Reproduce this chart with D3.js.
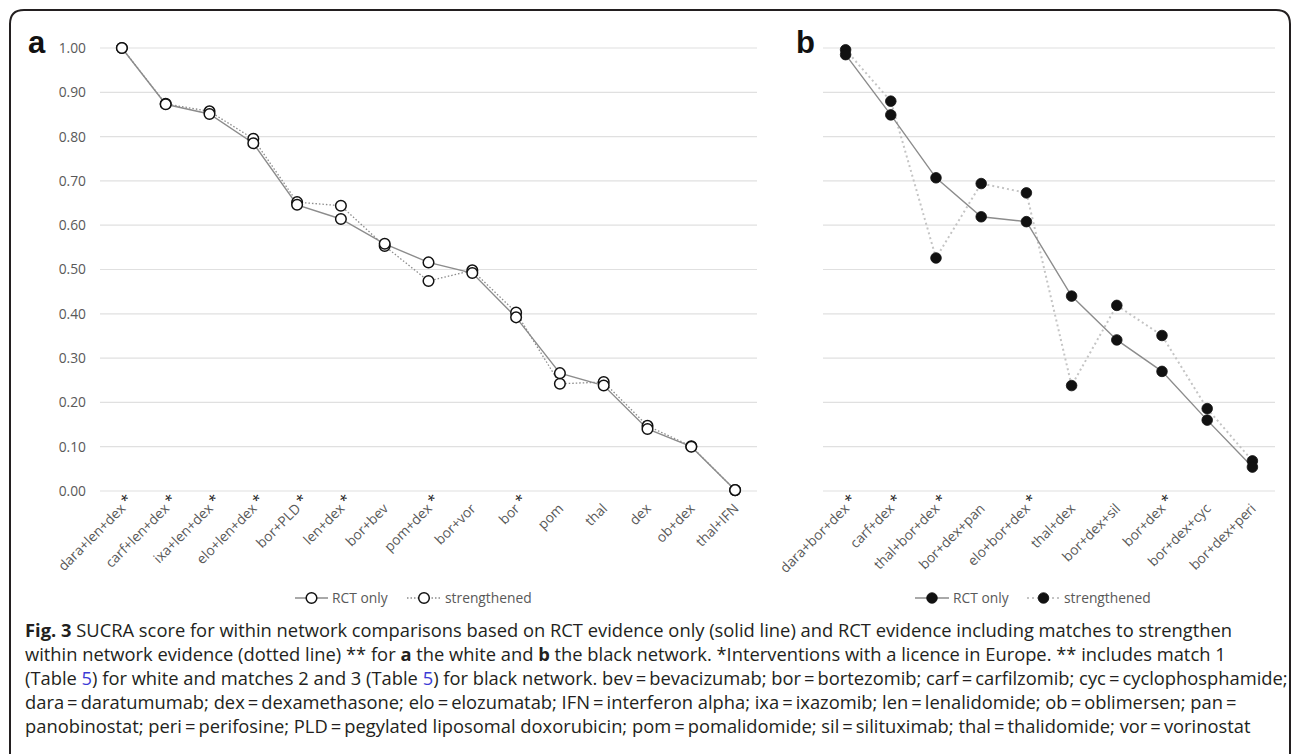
<!DOCTYPE html>
<html>
<head>
<meta charset="utf-8">
<script src="https://cdn.jsdelivr.net/npm/d3@7"></script>
<style>
  html, body { margin: 0; padding: 0; background: #ffffff; }
  svg { display: block; }
</style>
</head>
<body>
<svg id="chart" width="1292" height="754"></svg>
<script>
// ---------------- data ----------------
const catsA = ["dara+len+dex","carf+len+dex","ixa+len+dex","elo+len+dex","bor+PLD","len+dex","bor+bev","pom+dex","bor+vor","bor","pom","thal","dex","ob+dex","thal+IFN"];
const licA  = [1,1,1,1,1,1,0,1,0,1,0,0,0,0,0];
const rctA  = [1.000,0.873,0.851,0.785,0.646,0.614,0.558,0.516,0.492,0.392,0.266,0.238,0.140,0.100,0.002];
const strA  = [1.000,0.874,0.857,0.795,0.652,0.644,0.553,0.474,0.498,0.403,0.242,0.246,0.147,0.101,0.002];

const catsB = ["dara+bor+dex","carf+dex","thal+bor+dex","bor+dex+pan","elo+bor+dex","thal+dex","bor+dex+sil","bor+dex","bor+dex+cyc","bor+dex+peri"];
const licB  = [1,1,1,0,1,0,0,1,0,0];
const rctB  = [0.985,0.849,0.707,0.619,0.608,0.440,0.341,0.270,0.160,0.054];
const strB  = [0.996,0.880,0.526,0.694,0.673,0.238,0.419,0.351,0.186,0.068];

const yTicks = [0,0.1,0.2,0.3,0.4,0.5,0.6,0.7,0.8,0.9,1.0];
const seriesNames = ["RCT only","strengthened"];

const captionLines = [
  [["b","Fig. 3"],["n"," SUCRA score for within network comparisons based on RCT evidence only (solid line) and RCT evidence including matches to strengthen"]],
  [["n","within network evidence (dotted line) ** for "],["b","a"],["n"," the white and "],["b","b"],["n"," the black network. *Interventions with a licence in Europe. ** includes match 1"]],
  [["n","(Table "],["l","5"],["n",") for white and matches 2 and 3 (Table "],["l","5"],["n",") for black network. bev\u2009=\u2009bevacizumab; bor\u2009=\u2009bortezomib; carf\u2009=\u2009carfilzomib; cyc\u2009=\u2009cyclophosphamide;"]],
  [["n","dara\u2009=\u2009daratumumab; dex\u2009=\u2009dexamethasone; elo\u2009=\u2009elozumatab; IFN\u2009=\u2009interferon alpha; ixa\u2009=\u2009ixazomib; len\u2009=\u2009lenalidomide; ob\u2009=\u2009oblimersen; pan\u2009="]],
  [["n","panobinostat; peri\u2009=\u2009perifosine; PLD\u2009=\u2009pegylated liposomal doxorubicin; pom\u2009=\u2009pomalidomide; sil\u2009=\u2009silituximab; thal\u2009=\u2009thalidomide; vor\u2009=\u2009vorinostat"]]
];

// ---------------- drawing ----------------
const svg = d3.select("#chart");
const FONT = "'Open Sans', 'DejaVu Sans', sans-serif";
const GRAY_TXT = "#595959";

// outer frame with rounded top corners
svg.append("path")
  .attr("d", "M10,760 L10,24 Q10,10 24,10 L1276,10 Q1290,10 1290,24 L1290,760")
  .attr("fill", "none").attr("stroke", "#231f20").attr("stroke-width", 2);

const y = d3.scaleLinear().domain([0, 1]).range([491, 48]);

function panel(cfg) {
  const g = svg.append("g");
  const x = d3.scaleBand().domain(cfg.cats).range(cfg.range);
  const cx = c => x(c) + x.bandwidth() / 2;

  // gridlines
  g.append("g").selectAll("line").data(yTicks).join("line")
    .attr("x1", cfg.range[0]).attr("x2", cfg.range[1])
    .attr("y1", d => y(d)).attr("y2", d => y(d))
    .attr("stroke", "#e0e0e0").attr("stroke-width", 1.2);

  // y axis labels
  if (cfg.yLabels) {
    const ax = g.append("g").attr("transform", `translate(${cfg.range[0]},0)`)
      .call(d3.axisLeft(y).tickValues(yTicks).tickFormat(d3.format(".2f")).tickSize(0).tickPadding(14));
    ax.select(".domain").remove();
    ax.selectAll("text").attr("font-family", FONT).attr("font-size", 13.8).attr("fill", GRAY_TXT);
  }

  // x labels
  const lab = g.append("g").selectAll("g").data(cfg.cats).join("g")
    .attr("transform", d => `translate(${cx(d) + 1},506) rotate(-45)`);
  lab.append("text")
    .attr("text-anchor", "end").attr("dy", "0.35em")
    .attr("font-family", FONT).attr("font-size", 13.8).attr("fill", GRAY_TXT)
    .text(d => d);
  lab.filter((d, i) => cfg.lic[i]).append("text")
    .attr("x", 3).attr("dy", "0.2em")
    .attr("font-family", FONT).attr("font-size", 14.5).attr("fill", "#222")
    .text("*");

  const line = d3.line().x((d, i) => cx(cfg.cats[i])).y(d => y(d));

  // strengthened (dotted)
  g.append("path").datum(cfg.str).attr("d", line)
    .attr("fill", "none").attr("stroke", cfg.dotColor).attr("stroke-width", cfg.dotWidth)
    .attr("stroke-dasharray", cfg.dash);
  // RCT (solid)
  g.append("path").datum(cfg.rct).attr("d", line)
    .attr("fill", "none").attr("stroke", "#8c8c8c").attr("stroke-width", 1.4);

  const mark = (sel) => sel.attr("r", 5.3)
    .attr("fill", cfg.filled ? "#111" : "#fff")
    .attr("stroke", "#111").attr("stroke-width", cfg.filled ? 0.8 : 1.5);

  g.append("g").selectAll("circle").data(cfg.str).join("circle")
    .attr("cx", (d, i) => cx(cfg.cats[i])).attr("cy", d => y(d)).call(mark);
  g.append("g").selectAll("circle").data(cfg.rct).join("circle")
    .attr("cx", (d, i) => cx(cfg.cats[i])).attr("cy", d => y(d)).call(mark);

  // panel letter
  g.append("text").attr("x", cfg.letterX).attr("y", 53)
    .attr("font-family", "'Liberation Sans', Arial, sans-serif").attr("font-weight", "bold")
    .attr("font-size", 31).attr("fill", "#111").text(cfg.letter);

  // legend
  const lg = g.append("g").attr("transform", `translate(0,598)`);
  const L = cfg.legend;
  lg.append("line").attr("x1", L[0]).attr("x2", L[1]).attr("y1", 0).attr("y2", 0)
    .attr("stroke", "#8c8c8c").attr("stroke-width", 1.4);
  lg.append("circle").attr("cx", (L[0] + L[1]) / 2).attr("cy", 0).call(mark);
  lg.append("text").attr("x", L[1] + 4).attr("dy", "0.35em")
    .attr("font-family", FONT).attr("font-size", 13.8).attr("fill", GRAY_TXT).text(seriesNames[0]);
  lg.append("line").attr("x1", L[2]).attr("x2", L[3]).attr("y1", 0).attr("y2", 0)
    .attr("stroke", cfg.dotColor).attr("stroke-width", cfg.dotWidth).attr("stroke-dasharray", cfg.dash);
  lg.append("circle").attr("cx", (L[2] + L[3]) / 2).attr("cy", 0).call(mark);
  lg.append("text").attr("x", L[3] + 4).attr("dy", "0.35em")
    .attr("font-family", FONT).attr("font-size", 13.8).attr("fill", GRAY_TXT).text(seriesNames[1]);
}

panel({cats: catsA, lic: licA, rct: rctA, str: strA, range: [100, 757], yLabels: true,
       filled: false, dotColor: "#8c8c8c", dotWidth: 1.3, dash: "1.5,2",
       letter: "a", letterX: 28, legend: [295, 328, 407, 441]});
panel({cats: catsB, lic: licB, rct: rctB, str: strB, range: [823, 1275], yLabels: false,
       filled: true, dotColor: "#c4c4c4", dotWidth: 2, dash: "2,3",
       letter: "b", letterX: 796, legend: [915, 949, 1027, 1060]});

// caption
const cap = svg.append("g");
captionLines.forEach((parts, li) => {
  const t = cap.append("text").attr("x", 25).attr("y", 637 + li * 24)
    .attr("font-family", FONT).attr("font-size", 17).attr("fill", "#231f20");
  parts.forEach(([k, s]) => {
    const ts = t.append("tspan").text(s);
    if (k === "b") ts.attr("font-weight", "bold");
    if (k === "l") ts.attr("fill", "#3b3bd6");
  });
});
// fit caption font so the longest line reaches the frame width like the reference
const texts = cap.selectAll("text").nodes();
const w3 = texts[2].getComputedTextLength();
const fs = 17 * (1263 / w3);
cap.selectAll("text").attr("font-size", fs);
</script>
</body>
</html>
